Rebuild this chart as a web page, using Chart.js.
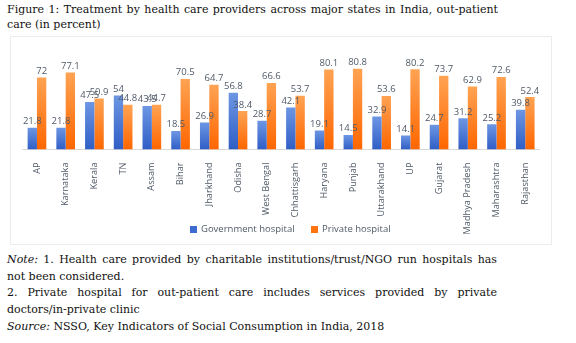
<!DOCTYPE html>
<html>
<head>
<meta charset="utf-8">
<script src="https://cdn.jsdelivr.net/npm/chart.js@4.4.1/dist/chart.umd.min.js"></script>
<style>
  html, body { margin: 0; padding: 0; background: #fff; }
  body { width: 576px; height: 343px; position: relative; overflow: hidden; }
  .serif { font-family: "DejaVu Serif", serif; font-size: 11px; color: #111; }
  #title { position: absolute; left: 7px; top: 2px; width: 491px; line-height: 15px; }
  #notes { position: absolute; left: 7px; top: 252px; width: 490px; line-height: 16.7px; }
  .j { text-align: justify; text-align-last: justify; white-space: nowrap; }
  .ln { white-space: nowrap; }
  #frame { position: absolute; left: 10px; top: 36px; width: 542px; height: 209px;
           border: 1px solid #ececec; box-sizing: border-box; }
  #chartBox { position: absolute; left: 10px; top: 36px; width: 542px; height: 209px; }
  #legend { position: absolute; left: 190px; top: 222px; height: 13px; white-space: nowrap;
            font-family: "Open Sans", sans-serif; font-size: 9.5px; line-height: 13px; color: #505a68; }
  #legend .item { display: inline-block; margin-right: 14px; }
  #legend .box { display: inline-block; width: 7px; height: 7px; margin-right: 4px; vertical-align: -0.5px; }
</style>
</head>
<body>

<div id="title" class="serif">
  <div class="j">Figure 1: Treatment by health care providers across major states in India, out-patient</div>
  <div class="ln">care (in percent)</div>
</div>

<div id="frame"></div>
<div id="chartBox"><canvas id="chartProviders"></canvas></div>
<div id="legend"></div>

<div id="notes" class="serif">
  <div class="j"><i>Note:</i> 1. Health care provided by charitable institutions/trust/NGO run hospitals has</div>
  <div class="ln">not been considered.</div>
  <div class="j">2. Private hospital for out-patient care includes services provided by private</div>
  <div class="ln">doctors/in-private clinic</div>
  <div class="ln"><i>Source:</i> NSSO, Key Indicators of Social Consumption in India, 2018</div>
</div>

<script>
/* =============================================
   DATA
   ============================================= */
const states = [
  'AP', 'Karnataka', 'Kerala', 'TN', 'Assam', 'Bihar', 'Jharkhand', 'Odisha',
  'West Bengal', 'Chhattisgarh', 'Haryana', 'Punjab', 'Uttarakhand', 'UP',
  'Gujarat', 'Madhya Pradesh', 'Maharashtra', 'Rajasthan'
];
const governmentHospital = [
  21.8, 21.8, 47.5, 54, 43.5, 18.5, 26.9, 56.8,
  28.7, 42.1, 19.1, 14.5, 32.9, 14.1,
  24.7, 31.2, 25.2, 39.8
];
const privateHospital = [
  72, 77.1, 50.9, 44.8, 44.7, 70.5, 64.7, 38.4,
  66.6, 53.7, 80.1, 80.8, 53.6, 80.2,
  73.7, 62.9, 72.6, 52.4
];

const FONT = '"Open Sans", sans-serif';
const TEXT_GREY = '#505a68';
const SWATCH = ['#3d6bd0', '#ff7410'];

/* =============================================
   BAR GRADIENTS (light top -> dark bottom)
   ============================================= */
function barGradient(top, bottom) {
  return (context) => {
    const chart = context.chart;
    if (!chart.chartArea || !chart.scales.y) return bottom;
    const yScale = chart.scales.y;
    const y0 = yScale.getPixelForValue(context.raw || 0);
    const y1 = yScale.getPixelForValue(0);
    const g = chart.ctx.createLinearGradient(0, y0, 0, y1);
    g.addColorStop(0, top);
    g.addColorStop(1, bottom);
    return g;
  };
}

/* =============================================
   VALUE LABELS ABOVE BARS
   ============================================= */
const valueLabels = {
  id: 'valueLabels',
  afterDatasetsDraw(chart) {
    const ctx = chart.ctx;
    ctx.save();
    ctx.font = '9.5px ' + FONT;
    ctx.fillStyle = TEXT_GREY;
    ctx.textAlign = 'center';
    ctx.textBaseline = 'bottom';
    chart.data.datasets.forEach((ds, i) => {
      const meta = chart.getDatasetMeta(i);
      meta.data.forEach((bar, j) => {
        ctx.fillText(String(ds.data[j]), bar.x, bar.y - 1.5);
      });
    });
    ctx.restore();
  }
};

/* =============================================
   HTML LEGEND (sits between the rotated labels)
   ============================================= */
const htmlLegend = {
  id: 'htmlLegend',
  afterUpdate(chart) {
    const el = document.getElementById('legend');
    el.innerHTML = chart.data.datasets.map((ds, i) => `
      <span class="item"><span class="box" style="background:${SWATCH[i]}"></span>${ds.label}</span>
    `).join('');
  }
};

/* =============================================
   RENDER CHART
   ============================================= */
function render() {
  const ctx = document.getElementById('chartProviders').getContext('2d');

  new Chart(ctx, {
    type: 'bar',
    data: {
      labels: states,
      datasets: [{
        label: 'Government hospital',
        data: governmentHospital,
        backgroundColor: barGradient('#6d96e3', '#2f5ec6'),
        borderWidth: 0
      }, {
        label: 'Private hospital',
        data: privateHospital,
        backgroundColor: barGradient('#ffa353', '#ff6600'),
        borderWidth: 0
      }]
    },
    options: {
      responsive: true,
      maintainAspectRatio: false,
      animation: false,
      datasets: {
        bar: { barPercentage: 1, categoryPercentage: 0.65 }
      },
      layout: {
        padding: { top: 23.5, left: 12.6, right: 12.4, bottom: 0 }
      },
      plugins: {
        legend: { display: false },
        tooltip: { enabled: false }
      },
      scales: {
        x: {
          grid: { display: false, drawTicks: false },
          border: { display: true, color: '#d9d9d9', width: 1 },
          ticks: {
            color: TEXT_GREY,
            font: { family: FONT, size: 9.2 },
            minRotation: 90,
            maxRotation: 90,
            padding: 13,
            autoSkip: false
          },
          afterFit(scale) { scale.height = 95.5; }
        },
        y: {
          display: false,
          min: 0,
          max: 90
        }
      }
    },
    plugins: [valueLabels, htmlLegend]
  });
}

render();
</script>
</body>
</html>
